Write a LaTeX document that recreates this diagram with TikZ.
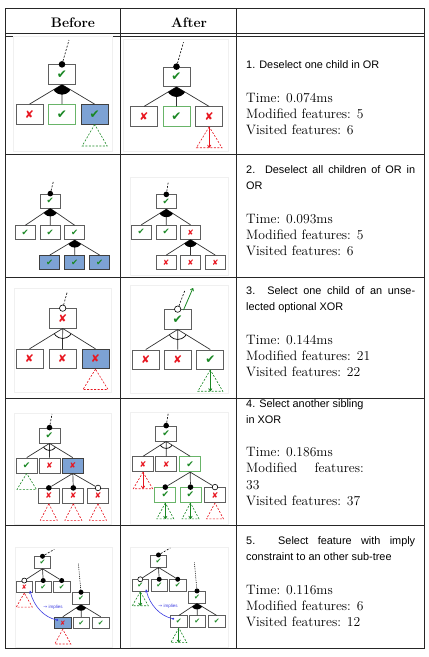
\documentclass[tikz,border=0pt]{standalone}
\usepackage{fontspec}
\newfontfamily\sans{Liberation Sans}
\newfontfamily\symf{DejaVu Sans}
\usetikzlibrary{arrows.meta}
\definecolor{chk}{RGB}{25,135,35}
\definecolor{crs}{RGB}{232,22,32}
\definecolor{selg}{RGB}{105,180,105}
\definecolor{actb}{RGB}{125,162,212}
\definecolor{boxg}{RGB}{95,95,95}
\definecolor{implc}{RGB}{60,60,225}
\newcommand\chk{\textcolor{chk}{✔}}
\newcommand\crs{\textcolor{crs}{\scalebox{0.9}{✘}}}
\newcommand\orgrp[4]{\begin{scope}\clip (#1) -- (#2) -- (#3) -- cycle; \fill (#1) circle (#4);\end{scope}}
\newcommand\xorgrp[4]{\begin{scope}\clip (#1) -- (#2) -- (#3) -- cycle; \draw[line width=0.7pt] (#1) circle (#4);\end{scope}}
\newcommand\tri[4]{\draw[tri,#4] (#1) -- ++(-#3,#2) -- ++(2*#3,0) -- cycle;}
\newcommand\triarr[4]{\draw[tri,#4] (#1) -- ++(-#3,#2) -- ++(2*#3,0) -- cycle; \draw[dn,#4] (#1) -- ++(0,#2);}
\begin{document}
\begin{tikzpicture}[x=1pt,y=-1pt,
  fb/.style={draw=boxg, line width=0.8pt, fill=white, inner sep=0pt},
  b1/.style={fb, minimum width=27pt, minimum height=19.5pt, font=\symf\fontsize{12}{12}\selectfont},
  b2/.style={fb, minimum width=20pt, minimum height=14pt, font=\symf\fontsize{8.5}{8.5}\selectfont},
  b4/.style={fb, minimum width=21pt, minimum height=15pt, font=\symf\fontsize{9}{9}\selectfont},
  b5/.style={fb, minimum width=16.5pt, minimum height=11.7pt, font=\symf\fontsize{7}{7}\selectfont},
  gs/.style={draw=selg},
  ac/.style={fill=actb, draw=black!75},
  ln/.style={draw=black!80, line width=0.7pt},
  pd/.style={draw=black, line width=0.6pt, dash pattern=on 2pt off 1.5pt},
  dt/.style={draw=black, line width=0.6pt, dash pattern=on 0.8pt off 1pt},
  tri/.style={line width=0.6pt, dash pattern=on 2pt off 1.5pt},
  dn/.style={-{To[length=3pt,width=4pt]}, line width=0.8pt},
  mand/.style={circle, fill=black, inner sep=0pt, minimum size=#1},
  opt/.style={circle, draw=black, fill=white, line width=0.6pt, inner sep=0pt, minimum size=#1},
  frm/.style={draw=black!6, line width=0.6pt},
  tl/.style={draw=black!85, line width=0.9pt},
  hd/.style={anchor=base, font=\bfseries\fontsize{13.8}{16}\selectfont},
  st/.style={anchor=base west, inner sep=0pt, font=\sans\fontsize{10.9}{13}\selectfont},
  rt/.style={anchor=base west, inner sep=0pt, font=\fontsize{13.6}{16}\selectfont},
  imp/.style={draw=implc, line width=0.6pt, {Circle[length=2pt]}-{Stealth[length=3pt,width=3pt]}},
  implbl/.style={text=implc, inner sep=0pt, font=\sans\fontsize{4.5}{5}\selectfont}
]
\useasboundingbox (0,0) rectangle (429,657);
% ---------- table ----------
\draw[tl] (5,8.3) rectangle (424,648);
\draw[tl] (120.7,8.3) -- (120.7,648) (236.3,8.3) -- (236.3,648);
\draw[tl] (5,33.3) -- (424,33.3) (5,36) -- (424,36);
\draw[tl] (5,154) -- (424,154) (5,277) -- (424,277) (5,398) -- (424,398) (5,525.5) -- (424,525.5);
\node[hd] (hb) at (73,27.6) {Before};
\node[hd] (ha) at (189,27.6) {After};
% ---------- frames ----------
\draw[frm] (13,36.5) rectangle (112,151);
\draw[frm] (123,39) rectangle (228,151);
\draw[frm] (130,177) rectangle (228,275);
\draw[frm] (14,288) rectangle (111,392);
\draw[frm] (130,285) rectangle (228,393);
\draw[frm] (14,413) rectangle (111,524);
\draw[frm] (130,412) rectangle (228,524);
\draw[frm] (15,547) rectangle (112,647);
\draw[frm] (130,547) rectangle (228,647);
% ---------- texts ----------
\node[st] (t1a) at (246,68.8) {1. Deselect one child in OR};
\node[rt] (t1b) at (246,102.5) {Time: 0.074ms};
\node[rt] (t1c) at (246,118.5) {Modified features: 5};
\node[rt] (t1d) at (246,134.5) {Visited features: 6};
\node[st] (t2a) at (246,173.8) {\makebox[169pt][s]{2. Deselect all children of OR in}};
\node[st] (t2b) at (246,189.8) {OR};
\node[rt] (t2c) at (246,223.5) {Time: 0.093ms};
\node[rt] (t2d) at (246,239.5) {Modified features: 5};
\node[rt] (t2e) at (246,255.5) {Visited features: 6};
\node[st] (t3a) at (246,294.8) {\makebox[169pt][s]{3. Select one child of an unse-}};
\node[st] (t3b) at (246,310.8) {lected optional XOR};
\node[rt] (t3c) at (246,344.5) {Time: 0.144ms};
\node[rt] (t3d) at (246,360.5) {Modified features: 21};
\node[rt] (t3e) at (246,376.5) {Visited features: 22};
\node[st] (t4a) at (246,407.8) {4. Select another sibling};
\node[st] (t4b) at (246,423.8) {in XOR};
\node[rt] (t4c) at (246,456.5) {Time: 0.186ms};
\node[rt] (t4d) at (246,472.8) {\makebox[117.6pt][s]{Modified features:}};
\node[rt] (t4e) at (246,489) {33};
\node[rt] (t4f) at (246,505.2) {Visited features: 37};
\node[st] (t5a) at (246,544.8) {\makebox[169pt][s]{5. Select feature with imply}};
\node[st] (t5b) at (246,560.8) {constraint to an other sub-tree};
\node[rt] (t5c) at (246,594.5) {Time: 0.116ms};
\node[rt] (t5d) at (246,610.5) {Modified features: 6};
\node[rt] (t5e) at (246,626.5) {Visited features: 12};
% ---------- row 1 before ----------
\node[b1] (b1p) at (62,74.5) {\chk};
\node[b1] (b1c1) at (29.5,114.3) {\crs};
\node[b1,gs] (b1c2) at (62,114.3) {\chk};
\node[b1,ac] (b1c3) at (94.7,114.3) {\chk};
\draw[ln] (b1p.south) -- (b1c1.north) (b1p.south) -- (b1c2.north) (b1p.south) -- (b1c3.north);
\orgrp{b1p.south}{b1c1.north}{b1c3.north}{10pt}
\node[mand=6.6pt] (b1d) at (b1p.north) {};
\coordinate (b1t) at (69,40);
\draw[pd] (b1d) -- (b1t);
\tri{b1c3.south}{21.5}{12.5}{chk}
% ---------- row 1 after ----------
\node[b1] (a1p) at (176.5,76.8) {\chk};
\node[b1] (a1c1) at (144,116.6) {\crs};
\node[b1,gs] (a1c2) at (176.5,116.6) {\chk};
\node[b1] (a1c3) at (209.2,116.6) {\crs};
\draw[ln] (a1p.south) -- (a1c1.north) (a1p.south) -- (a1c2.north) (a1p.south) -- (a1c3.north);
\orgrp{a1p.south}{a1c1.north}{a1c3.north}{10pt}
\node[mand=6.6pt] (a1d) at (a1p.north) {};
\coordinate (a1t) at (183.5,42.3);
\draw[pd] (a1d) -- (a1t);
\triarr{a1c3.south}{21}{12.8}{crs}
% ---------- row 2 before ----------
\node[b2] (b2p) at (50.3,201) {\chk};
\node[b2] (b2c1) at (25.3,232.7) {\chk};
\node[b2] (b2c2) at (50.3,232.7) {\chk};
\node[b2] (b2c3) at (74.7,232.7) {\chk};
\node[b2,ac] (b2g1) at (49.7,262.5) {\chk};
\node[b2,ac] (b2g2) at (74.7,262.5) {\chk};
\node[b2,ac] (b2g3) at (99.7,262.5) {\chk};
\draw[ln] (b2p.south) -- (b2c1.north) (b2p.south) -- (b2c2.north) (b2p.south) -- (b2c3.north);
\draw[ln] (b2c3.south) -- (b2g1.north) (b2c3.south) -- (b2g2.north) (b2c3.south) -- (b2g3.north);
\orgrp{b2p.south}{b2c1.north}{b2c3.north}{8pt}
\orgrp{b2c3.south}{b2g1.north}{b2g3.north}{7.5pt}
\node[mand=5.6pt] (b2d) at (b2p.north) {};
\coordinate (b2t) at (53.3,181.7);
\draw[pd] (b2d) -- (b2t);
% ---------- row 2 after ----------
\node[b2] (a2p) at (166.3,201.8) {\chk};
\node[b2] (a2c1) at (141.3,232.2) {\chk};
\node[b2] (a2c2) at (166.3,232.2) {\chk};
\node[b2] (a2c3) at (190.5,232.2) {\crs};
\node[b2] (a2g1) at (166.2,262.5) {\crs};
\node[b2] (a2g2) at (190.5,262.5) {\crs};
\node[b2] (a2g3) at (215.3,262.5) {\crs};
\draw[ln] (a2p.south) -- (a2c1.north) (a2p.south) -- (a2c2.north) (a2p.south) -- (a2c3.north);
\draw[ln] (a2c3.south) -- (a2g1.north) (a2c3.south) -- (a2g2.north) (a2c3.south) -- (a2g3.north);
\orgrp{a2p.south}{a2c1.north}{a2c3.north}{8pt}
\orgrp{a2c3.south}{a2g1.north}{a2g3.north}{7.5pt}
\node[mand=5.6pt] (a2d) at (a2p.north) {};
\coordinate (a2t) at (168.3,181.7);
\draw[pd] (a2d) -- (a2t);
% ---------- row 3 before ----------
\node[b1] (b3p) at (62.7,318.3) {\crs};
\node[b1] (b3c1) at (29.5,359) {\crs};
\node[b1] (b3c2) at (62.5,359) {\crs};
\node[b1,ac] (b3c3) at (95.5,359) {\crs};
\draw[ln] (b3p.south) -- (b3c1.north) (b3p.south) -- (b3c2.north) (b3p.south) -- (b3c3.north);
\xorgrp{b3p.south}{b3c1.north}{b3c3.north}{10pt}
\node[opt=6.4pt] (b3d) at (b3p.north) {};
\coordinate (b3t) at (67.3,291.7);
\draw[pd] (b3d) -- (b3t);
\tri{b3c3.south}{20.3}{12.5}{crs}
% ---------- row 3 after ----------
\node[b1] (a3p) at (177.7,319.3) {\chk};
\node[b1] (a3c1) at (145.7,359.7) {\crs};
\node[b1] (a3c2) at (177.7,359.7) {\crs};
\node[b1] (a3c3) at (210.3,359.7) {\chk};
\draw[ln] (a3p.south) -- (a3c1.north) (a3p.south) -- (a3c2.north) (a3p.south) -- (a3c3.north);
\xorgrp{a3p.south}{a3c1.north}{a3c3.north}{10pt}
\node[opt=6.4pt] (a3d) at (a3p.north) {};
\coordinate (a3t) at (185,290);
\draw[pd] (a3d) -- (a3t);
\coordinate (a3s) at (183.5,310);
\coordinate (a3e) at (193,288);
\draw[dn,chk] (a3s) -- (a3e);
\triarr{a3c3.south}{21.4}{12.5}{chk}
% ---------- row 4 before ----------
\node[b4] (b4p) at (49.5,435.5) {\chk};
\node[b4] (b4c1) at (26.7,465.5) {\chk};
\node[b4] (b4c2) at (49.5,465.5) {\crs};
\node[b4,ac] (b4c3) at (72.8,465.5) {\crs};
\draw[ln] (b4p.south) -- (b4c1.north) (b4p.south) -- (b4c2.north) (b4p.south) -- (b4c3.north);
\xorgrp{b4p.south}{b4c1.north}{b4c3.north}{7pt}
\node[mand=5.6pt] (b4d) at (b4p.north) {};
\coordinate (b4t) at (52,414);
\draw[pd] (b4d) -- (b4t);
\tri{b4c1.south}{16}{9.7}{chk}
\node[b4] (b4g1) at (48.8,495.8) {\crs};
\node[b4] (b4g2) at (73.3,495.8) {\crs};
\node[b4] (b4g3) at (98,495.8) {\crs};
\node[mand=5.6pt] (b4g1d) at (b4g1.north) {};
\node[mand=5.6pt] (b4g2d) at (b4g2.north) {};
\node[opt=5.6pt] (b4g3d) at (b4g3.north) {};
\draw[ln] (b4c3.south) -- (b4g1d) (b4c3.south) -- (b4g2d) (b4c3.south) -- (b4g3d);
\tri{b4g1.south}{16.7}{8.5}{crs}
\tri{b4g2.south}{16.7}{8.5}{crs}
\tri{b4g3.south}{16.7}{8.5}{crs}
% ---------- row 4 after ----------
\node[b4] (a4p) at (166.2,433.5) {\chk};
\node[b4] (a4c1) at (143,464.2) {\crs};
\node[b4] (a4c2) at (166.3,464.2) {\crs};
\node[b4,gs] (a4c3) at (190.2,464.2) {\chk};
\draw[ln] (a4p.south) -- (a4c1.north) (a4p.south) -- (a4c2.north) (a4p.south) -- (a4c3.north);
\xorgrp{a4p.south}{a4c1.north}{a4c3.north}{7pt}
\node[mand=5.6pt] (a4d) at (a4p.north) {};
\coordinate (a4t) at (168.3,413);
\draw[pd] (a4d) -- (a4t);
\triarr{a4c1.south}{16.6}{9.7}{crs}
\node[b4,gs] (a4g1) at (165.3,495) {\chk};
\node[b4,gs] (a4g2) at (190.5,495) {\chk};
\node[b4] (a4g3) at (215,495) {\crs};
\node[mand=5.6pt] (a4g1d) at (a4g1.north) {};
\node[mand=5.6pt] (a4g2d) at (a4g2.north) {};
\node[opt=5.6pt] (a4g3d) at (a4g3.north) {};
\draw[ln] (a4c3.south) -- (a4g1d) (a4c3.south) -- (a4g2d) (a4c3.south) -- (a4g3d);
\triarr{a4g1.south}{16}{8.5}{chk}
\triarr{a4g2.south}{16}{8.5}{chk}
\tri{a4g3.south}{16}{8.5}{crs}
% ---------- row 5 before ----------
\node[b5] (b5ap) at (42.5,562.5) {\chk};
\node[b5] (b5a1) at (24.3,586.8) {\crs};
\node[b5] (b5a2) at (43.2,586.8) {\chk};
\node[b5] (b5a3) at (61.7,586.8) {\chk};
\node[opt=5pt] (b5a1d) at (b5a1.north) {};
\node[mand=5pt] (b5a2d) at (b5a2.north) {};
\node[mand=5pt] (b5a3d) at (b5a3.north) {};
\draw[ln] (b5ap.south) -- (b5a1d) (b5ap.south) -- (b5a2d) (b5ap.south) -- (b5a3d);
\node[mand=5pt] (b5apd) at (b5ap.north) {};
\coordinate (b5at) at (54.3,549.3);
\draw[pd] (b5apd) -- (b5at);
\tri{b5a1.south}{14}{8}{crs}
\node[b5] (b5bp) at (81,598.5) {\chk};
\node[b5,ac] (b5b1) at (62.8,623) {\crs};
\node[b5] (b5b2) at (81.3,623) {\chk};
\node[b5] (b5b3) at (100.7,623) {\chk};
\draw[ln] (b5bp.south) -- (b5b1.north) (b5bp.south) -- (b5b2.north) (b5bp.south) -- (b5b3.north);
\orgrp{b5bp.south}{b5b1.north}{b5b3.north}{6pt}
\node[mand=5pt] (b5bpd) at (b5bp.north) {};
\coordinate (b5bt) at (78.3,562.7);
\draw[dt] (b5bpd) -- (b5bt);
\tri{b5b1.south}{14.7}{8}{crs}
\draw[imp] ([shift={(4,3.5)}]b5b1.north west) .. controls +(-14,-3) and +(4,16) .. ([shift={(-3,-2.5)}]b5a1.south east);
\node[implbl] (b5il) at (53,607.5) {{\symf →} implies};
% ---------- row 5 after ----------
\node[b5] (a5ap) at (158.5,561.2) {\chk};
\node[b5] (a5a1) at (140.3,585.5) {\chk};
\node[b5] (a5a2) at (159.2,585.5) {\chk};
\node[b5] (a5a3) at (177.7,585.5) {\chk};
\node[opt=5pt] (a5a1d) at (a5a1.north) {};
\node[mand=5pt] (a5a2d) at (a5a2.north) {};
\node[mand=5pt] (a5a3d) at (a5a3.north) {};
\draw[ln] (a5ap.south) -- (a5a1d) (a5ap.south) -- (a5a2d) (a5ap.south) -- (a5a3d);
\node[mand=5pt] (a5apd) at (a5ap.north) {};
\coordinate (a5at) at (170.3,548);
\draw[pd] (a5apd) -- (a5at);
\triarr{a5a1.south}{14}{8}{chk}
\node[b5] (a5bp) at (197,597.2) {\chk};
\node[b5] (a5b1) at (178.8,621.7) {\chk};
\node[b5] (a5b2) at (197.3,621.7) {\chk};
\node[b5] (a5b3) at (216.7,621.7) {\chk};
\draw[ln] (a5bp.south) -- (a5b1.north) (a5bp.south) -- (a5b2.north) (a5bp.south) -- (a5b3.north);
\orgrp{a5bp.south}{a5b1.north}{a5b3.north}{6pt}
\node[mand=5pt] (a5bpd) at (a5bp.north) {};
\coordinate (a5bt) at (194.3,561.4);
\draw[dt] (a5bpd) -- (a5bt);
\triarr{a5b1.south}{14.7}{8}{chk}
\draw[imp] ([shift={(4,3.5)}]a5b1.north west) .. controls +(-14,-3) and +(4,16) .. ([shift={(-3,-2.5)}]a5a1.south east);
\node[implbl] (a5il) at (168,606.5) {{\symf →} implies};
\end{tikzpicture}
\end{document}
